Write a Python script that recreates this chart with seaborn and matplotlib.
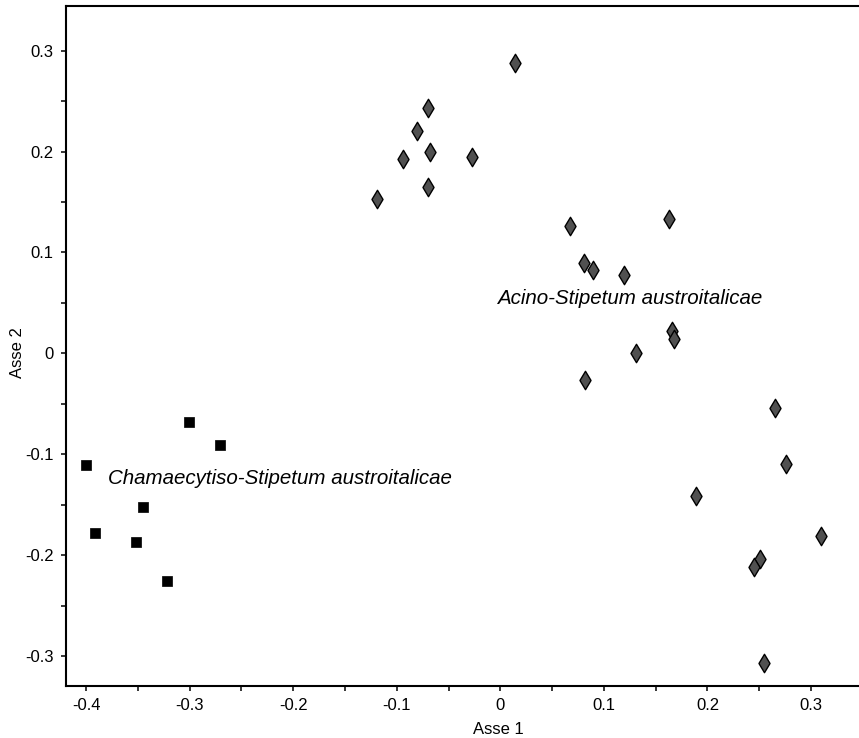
import numpy as np
import pandas as pd
import matplotlib
matplotlib.use("Agg")
import matplotlib.pyplot as plt
import seaborn as sns

# Acino-Stipetum austroitalicae (diamonds)
acino_x = [0.014, -0.070, -0.080, -0.068, -0.094, -0.027, -0.070, -0.119,
           0.067, 0.163, 0.0805, 0.0895, 0.119, 0.166, 0.168, 0.131, 0.0815,
           0.265, 0.276, 0.189, 0.310, 0.251, 0.245, 0.255]
acino_y = [0.288, 0.243, 0.220, 0.200, 0.193, 0.195, 0.165, 0.153,
           0.126, 0.133, 0.090, 0.083, 0.078, 0.022, 0.014, 0.000, -0.026,
           -0.054, -0.110, -0.141, -0.181, -0.204, -0.212, -0.307]

# Chamaecytiso-Stipetum austroitalicae (squares)
chama_x = [-0.301, -0.271, -0.400, -0.345, -0.391, -0.352, -0.322]
chama_y = [-0.068, -0.091, -0.111, -0.152, -0.178, -0.187, -0.226]

x_ticks = [-0.4, -0.3, -0.2, -0.1, 0, 0.1, 0.2, 0.3]
x_ticklabels = ["-0.4", "-0.3", "-0.2", "-0.1", "0", "0.1", "0.2", "0.3"]
y_ticks = [-0.3, -0.2, -0.1, 0, 0.1, 0.2, 0.3]
y_ticklabels = ["-0.3", "-0.2", "-0.1", "0", "0.1", "0.2", "0.3"]

df = pd.DataFrame({
    "x": acino_x + chama_x,
    "y": acino_y + chama_y,
    "group": ["Acino"] * len(acino_x) + ["Chama"] * len(chama_x),
})

sns.set_style("ticks")
plt.rcParams['font.family'] = ['Liberation Sans', 'DejaVu Sans']
plt.rcParams['text.color'] = 'black'
plt.rcParams['axes.labelcolor'] = 'black'
plt.rcParams['xtick.color'] = 'black'
plt.rcParams['ytick.color'] = 'black'

fig = plt.figure(figsize=(8.59, 7.38), dpi=100)
ax = fig.add_axes([0.0765, 0.0709, 0.9235, 0.921])

acino = df[df.group == "Acino"]
chama = df[df.group == "Chama"]
sns.scatterplot(data=acino, x="x", y="y", marker="d", s=88, color="#505050",
                edgecolor="black", linewidth=1.0, ax=ax, legend=False, zorder=3)
sns.scatterplot(data=chama, x="x", y="y", marker="s", s=52, color="black",
                edgecolor="black", linewidth=0.5, ax=ax, legend=False, zorder=3)

ax.text(-0.0035, 0.054, "Acino-Stipetum austroitalicae", style="italic",
        fontsize=14.8, va="center", ha="left", color="black")
ax.text(-0.379, -0.1245, "Chamaecytiso-Stipetum austroitalicae", style="italic",
        fontsize=14.8, va="center", ha="left", color="black")

ax.set_xlim(-0.4196, 0.3463)
ax.set_ylim(-0.3294, 0.3443)
ax.set_xticks(x_ticks)
ax.set_xticklabels(x_ticklabels)
ax.set_yticks(y_ticks)
ax.set_yticklabels(y_ticklabels)
ax.set_xticks(np.arange(-0.35, 0.35, 0.1), minor=True)
ax.set_yticks(np.arange(-0.25, 0.35, 0.1), minor=True)
ax.tick_params(which="both", direction="out", length=3.6, width=1.1,
               labelsize=12, color="black", labelcolor="black", pad=5)

ax.set_xlabel("Asse 1", fontsize=12)
ax.set_ylabel("Asse 2", fontsize=12)
ax.xaxis.set_label_coords(0.546, -0.053)
ax.yaxis.set_label_coords(-0.051, 0.490)

for side in ["left", "bottom", "top"]:
    ax.spines[side].set_linewidth(1.5)
    ax.spines[side].set_color("black")
ax.spines["right"].set_visible(False)

fig.savefig("out.png", dpi=100)
